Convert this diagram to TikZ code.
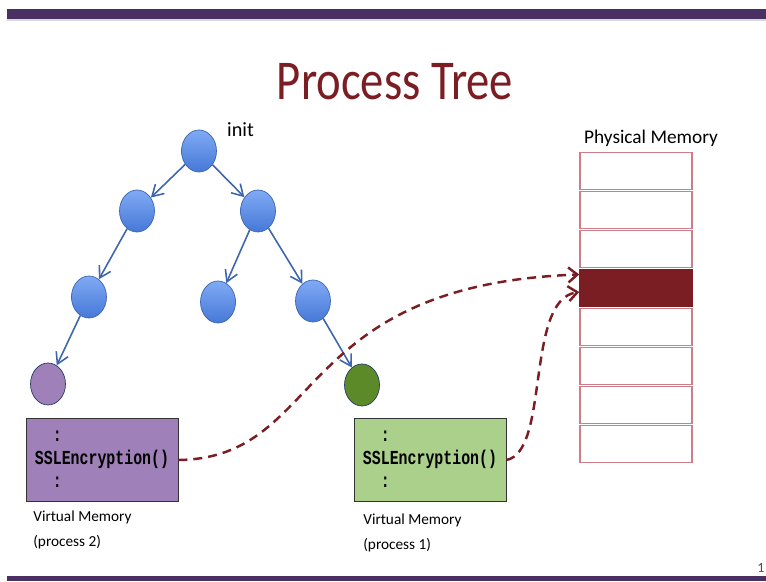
\documentclass[tikz,border=0pt]{standalone}
\usepackage{fontspec}
\setmainfont{Carlito}
\setmonofont{Liberation Mono}
\usepackage{tikz}
\usetikzlibrary{shapes.geometric,arrows.meta}
\definecolor{slidebar}{RGB}{72,48,98}
\definecolor{titlered}{RGB}{122,30,36}
\definecolor{framered}{RGB}{122,30,36}
\definecolor{celledge}{RGB}{205,125,135}
\definecolor{treeblue}{RGB}{62,102,172}
\definecolor{proctop}{RGB}{128,170,245}
\definecolor{procbot}{RGB}{70,120,215}
\definecolor{ptwofill}{RGB}{160,128,184}
\definecolor{ponefill}{RGB}{92,138,40}
\definecolor{vmtwofill}{RGB}{160,128,184}
\definecolor{vmonefill}{RGB}{170,208,140}
\newcommand{\vmcode}{\scalebox{0.75}[1]{\begin{tabular}{@{}l@{}}
  \hphantom{SS}:\\SSLEncryption()\\\hphantom{SS}:\end{tabular}}}
\tikzset{
  proc/.style={
    ellipse,
    draw=treeblue,
    top color=proctop,
    bottom color=procbot,
    minimum width=0.7cm,
    minimum height=0.84cm,
    inner sep=0pt
  },
  leafproc/.style={
    ellipse,
    draw=treeblue!60!black,
    minimum width=0.7cm,
    minimum height=0.84cm,
    inner sep=0pt
  },
  tedge/.style={
    draw=treeblue,
    line width=0.9pt,
    -{Straight Barb[length=2.2mm,width=2.6mm]}
  },
  vmbox/.style={
    draw=black!80,
    minimum width=3.04cm,
    minimum height=1.66cm,
    inner sep=0pt,
    font=\fontsize{11.3}{13}\selectfont\ttfamily\bfseries
  },
  vmlabel/.style={
    anchor=north west,
    align=left,
    inner sep=0pt,
    font=\fontsize{8.7}{14.2}\selectfont
  },
  memcell/.style={
    draw=celledge,
    fill=white,
    line width=0.9pt,
    minimum width=2.24cm,
    minimum height=0.74cm,
    inner sep=0pt
  },
  memcell3/.style={fill=framered, draw=framered},
  mapping/.style={
    draw=framered,
    line width=1.4pt,
    dash pattern=on 0.18cm off 0.12cm,
    -{Straight Barb[length=1.8mm,width=3mm]}
  }
}

\begin{document}
\begin{tikzpicture}[x={(0.02cm,0)},y={(0,-0.02cm)}]
  \useasboundingbox (0,0) rectangle (766,581);
  \fill[white] (0,0) rectangle (766,581);
  % slide frame
  \fill[slidebar] (7,9) rectangle (766,19);
  \fill[black!15] (7,19) rectangle (766,21);
  \fill[slidebar] (7,576) rectangle (766,581);
  \node[font=\fontsize{32}{36}\selectfont, text=titlered] (title) at (395,82) {\scalebox{0.83}[1]{Process Tree}};
  \node[font=\fontsize{8}{9}\selectfont, text=black!70] (pageno) at (761,568) {1};

  % process tree
  \node[proc] (init) at (199,151) {};
  \node[font=\fontsize{11.5}{14}\selectfont, anchor=west] (initlabel) at (221,130) {init};
  \node[proc] (pa) at (137,211) {};
  \node[proc] (pb) at (258,211) {};
  \node[proc] (paa) at (89,297) {};
  \node[proc] (pba) at (218,302) {};
  \node[proc] (pbb) at (313,301) {};
  \node[leafproc, fill=ptwofill] (ptwo) at (48,384) {};
  \node[leafproc, fill=ponefill] (pone) at (362,385) {};
  \draw[tedge] (init) -- (pa);
  \draw[tedge] (init) -- (pb);
  \draw[tedge] (pa) -- (paa);
  \draw[tedge] (pb) -- (pba);
  \draw[tedge] (pb) -- (pbb);
  \draw[tedge] (paa) -- (ptwo);
  \draw[tedge] (pbb) -- (pone);

  % virtual memory
  \node[vmbox, fill=vmtwofill] (vmtwo) at (102,460) {\vmcode};
  \node[vmbox, fill=vmonefill] (vmone) at (430,460) {\vmcode};
  \node[vmlabel] (vmtwolabel) at (33,511) {Virtual Memory\\(process 2)};
  \node[vmlabel] (vmonelabel) at (363,514) {Virtual Memory\\(process 1)};

  % physical memory
  \node[font=\fontsize{11}{13}\selectfont] (pmlabel) at (651,138) {Physical Memory};
  \foreach \i in {0,...,7}
    \node[memcell, memcell\i/.try] (cell\i) at (636,171+39*\i) {};

  % shared page
  \draw[mapping] (vmtwo.east) .. controls (325,458) and (290,285) .. ([yshift=0.27cm]cell3.west);
  \draw[mapping] (vmone.east) .. controls (550,452) and (525,300) .. ([yshift=-0.08cm]cell3.west);
\end{tikzpicture}
\end{document}
